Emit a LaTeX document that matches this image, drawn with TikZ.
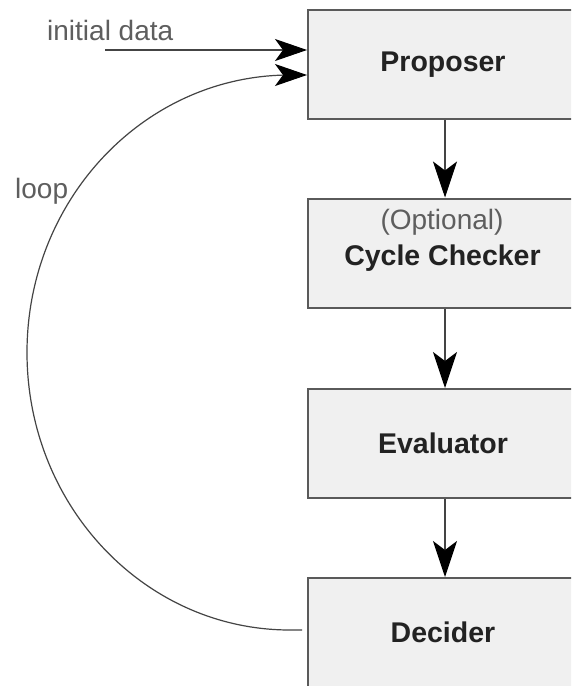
\documentclass[tikz,border=0pt]{standalone}
\usepackage{fontspec}
\setmainfont{Liberation Sans}
\usetikzlibrary{arrows.meta}
\definecolor{boxfill}{HTML}{F0F0F0}
\definecolor{boxline}{HTML}{5A5A5A}
\definecolor{wire}{HTML}{444444}
\definecolor{softtext}{HTML}{5E5E5E}
\definecolor{boldtext}{HTML}{222222}
\begin{document}
\begin{tikzpicture}[x=1pt,y=1pt,
  stage/.style={draw=boxline, line width=2pt, fill=boxfill, minimum width=270pt,
    minimum height=109pt, inner sep=0pt, text=boldtext,
    font=\fontsize{28.5}{34}\selectfont\bfseries},
  note/.style={inner sep=0pt, text=softtext, font=\fontsize{28}{33}\selectfont},
  flow/.style={draw=wire, line width=1.4pt,
    -{Stealth[length=36pt,width=24pt,inset=9pt,color=black,fill=black,line width=1pt]}},
  feed/.style={draw=wire, line width=1.2pt,
    -{Stealth[length=32pt,width=22pt,inset=8pt,color=black,fill=black,line width=1pt]}}]
\useasboundingbox (0,0) rectangle (571,-686);
\clip (0,0) rectangle (571,-686);
\fill[white] (0,0) rectangle (571,-686);

% the four processing stages
\node[stage] (prop) at (443,-64.5) {Proposer};
\node[stage] (cyc)  at (443,-253) {};
\node[stage] (eval) at (443,-443.5) {Evaluator};
\node[stage] (dec)  at (443,-632.5) {Decider};

% two-line label of the optional stage
\node[note, anchor=base] (opt) at (442,-229) {(Optional)};
\node[inner sep=0pt, anchor=base, text=boldtext,
  font=\fontsize{28.5}{34}\selectfont\bfseries] (cyct) at (442.5,-265) {Cycle Checker};

% side labels
\node[note, anchor=base west] (init) at (47,-40) {initial data};
\node[note, anchor=base west] (loop) at (15,-198) {loop};

% forward chain
\draw[flow] ([xshift=2pt]prop.south) -- ([xshift=2pt]cyc.north);
\draw[flow] ([xshift=2pt]cyc.south) -- ([xshift=2pt]eval.north);
\draw[flow] ([xshift=2pt]eval.south) -- ([xshift=2pt]dec.north);

% initial input
\coordinate (start) at (105,-50);
\draw[feed] (start) -- ([yshift=14.5pt]prop.west);

% feedback loop from the decider back to the proposer
\draw[feed, shorten <=5pt] ([yshift=2.5pt]dec.west) -- (290,-630)
  arc[start angle=270, end angle=90, x radius=263, y radius=277.5]
  -- ([yshift=-10.5pt]prop.west);
\end{tikzpicture}
\end{document}
